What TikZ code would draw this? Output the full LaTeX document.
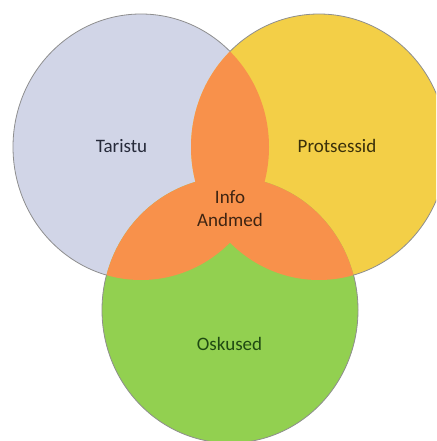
\documentclass[tikz,border=0pt]{standalone}
\usepackage{fontspec}
\setmainfont{Carlito}
\definecolor{infraFill}{HTML}{D1D5E7}
\definecolor{procFill}{HTML}{F3CF47}
\definecolor{skillFill}{HTML}{92D050}
\definecolor{shareFill}{HTML}{F8914B}
\definecolor{rimGray}{HTML}{8E8E8E}
\definecolor{infraText}{HTML}{262A3A}
\definecolor{procText}{HTML}{3A300A}
\definecolor{skillText}{HTML}{1F4A12}
\definecolor{shareText}{HTML}{3E2412}
\begin{document}
\begin{tikzpicture}[x=1pt,y=-1pt,
  label/.style={font=\fontsize{19}{23}\selectfont, anchor=base, inner sep=0pt},
  blob/.style={x radius=128pt, y radius=133pt},
  rim/.style={draw=rimGray, line width=0.8pt}]
\useasboundingbox (0,0) rectangle (436,441);
\clip (0,0) rectangle (436,441);

% centres of the three sets
\coordinate (cL) at (141,147);
\coordinate (cR) at (319,147);
\coordinate (cB) at (230,310);

% plain fills
\fill[infraFill] (cL) ellipse[blob];
\fill[procFill]  (cR) ellipse[blob];
\fill[skillFill] (cB) ellipse[blob];

% every overlap is shared
\begin{scope}
  \clip (cL) ellipse[blob];
  \fill[shareFill] (cR) ellipse[blob];
  \fill[shareFill] (cB) ellipse[blob];
\end{scope}
\begin{scope}
  \clip (cR) ellipse[blob];
  \fill[shareFill] (cB) ellipse[blob];
\end{scope}

% outer rim only: each outline clipped to the outside of the other two
\begin{scope}[even odd rule]
  \clip (-20,-20) rectangle (460,460) (cR) ellipse[blob];
  \clip (-20,-20) rectangle (460,460) (cB) ellipse[blob];
  \draw[rim] (cL) ellipse[blob];
\end{scope}
\begin{scope}[even odd rule]
  \clip (-20,-20) rectangle (460,460) (cL) ellipse[blob];
  \clip (-20,-20) rectangle (460,460) (cB) ellipse[blob];
  \draw[rim] (cR) ellipse[blob];
\end{scope}
\begin{scope}[even odd rule]
  \clip (-20,-20) rectangle (460,460) (cL) ellipse[blob];
  \clip (-20,-20) rectangle (460,460) (cR) ellipse[blob];
  \draw[rim] (cB) ellipse[blob];
\end{scope}

% labels
\node[label, text=infraText] (taristu) at (121.5,152) {Taristu};
\node[label, text=procText] (protsessid) at (337,152.3) {Protsessid};
\node[label, text=shareText] (info) at (230,203.3) {Info};
\node[label, text=shareText] (andmed) at (230,226) {Andmed};
\node[label, text=skillText] (oskused) at (229.5,350.7) {Oskused};
\end{tikzpicture}
\end{document}
